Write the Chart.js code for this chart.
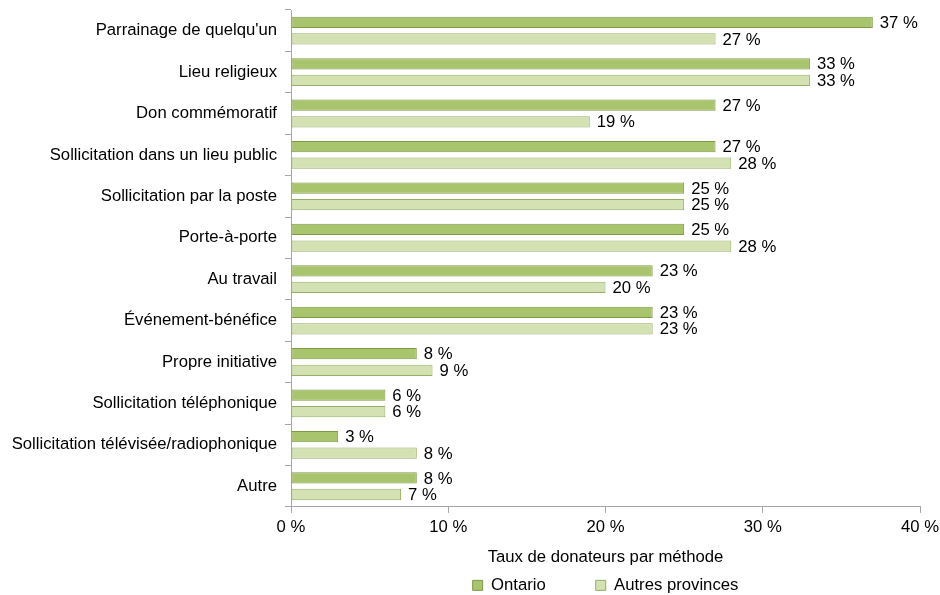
<!DOCTYPE html>
<html lang="fr">
<head>
<meta charset="utf-8">
<script src="https://cdn.jsdelivr.net/npm/chart.js@4/dist/chart.umd.min.js"></script>
<style>
  html, body { margin: 0; padding: 0; background: #fff; }
  #wrap { width: 940px; height: 595px; }
</style>
</head>
<body>
<div id="wrap"><canvas id="c" width="940" height="595"></canvas></div>
<script>
// Méthodes de sollicitation
const categories = [
  "Parrainage de quelqu'un",
  "Lieu religieux",
  "Don commémoratif",
  "Sollicitation dans un lieu public",
  "Sollicitation par la poste",
  "Porte-à-porte",
  "Au travail",
  "Événement-bénéfice",
  "Propre initiative",
  "Sollicitation téléphonique",
  "Sollicitation télévisée/radiophonique",
  "Autre"
];

// Taux de donateurs (%)
const ontario = [37, 33, 27, 27, 25, 25, 23, 23, 8, 6, 3, 8];
const autresProvinces = [27, 33, 19, 28, 25, 28, 20, 23, 9, 6, 8, 7];

const seriesNames = ["Ontario", "Autres provinces"];
const xTicks = [0, 10, 20, 30, 40];
const axisTitle = "Taux de donateurs par méthode";

const FONT = "'Liberation Sans', Arial, sans-serif";
const FS = 16.7;
const LEGEND_GAP = 50;     // espace horizontal entre les entrées de légende
const LEGEND_HEIGHT = 26;  // hauteur réservée à la légende

// Étiquettes de valeur à droite de chaque barre
const valueLabels = {
  id: 'valueLabels',
  afterDatasetsDraw(chart) {
    const ctx = chart.ctx;
    ctx.save();
    ctx.font = FS + 'px ' + FONT;
    ctx.fillStyle = '#000';
    ctx.textBaseline = 'middle';
    ctx.textAlign = 'left';
    chart.data.datasets.forEach((ds, di) => {
      const meta = chart.getDatasetMeta(di);
      meta.data.forEach((bar, i) => {
        ctx.fillText(ds.data[i] + ' %', bar.x + 7, bar.y + 1);
      });
    });
    ctx.restore();
  }
};

// La marge de la légende sert d'espacement horizontal : on limite sa hauteur
// puis on la recentre sous la zone de tracé.
const legendUnderPlot = {
  id: 'legendUnderPlot',
  beforeLayout(chart) {
    const lg = chart.legend;
    if (!lg || lg._compactFit) return;
    const fit = lg.fit.bind(lg);
    lg.fit = function () {
      fit();
      this.height = LEGEND_HEIGHT;
    };
    lg._compactFit = true;
  },
  afterLayout(chart) {
    const lg = chart.legend;
    if (!lg) return;
    const dx = (chart.chartArea.left + chart.chartArea.right) / 2 - (lg.left + lg.right) / 2;
    lg.left += dx;
    lg.right += dx;
    lg.top = lg.bottom - LEGEND_GAP - 18;
  }
};

new Chart(document.getElementById('c'), {
  type: 'bar',
  data: {
    labels: categories,
    datasets: [
      {
        label: seriesNames[0],
        data: ontario,
        backgroundColor: '#A8C46C',
        borderColor: '#7E9A48',
        borderWidth: 1,
        borderSkipped: false,
        barPercentage: 0.68,
        categoryPercentage: 0.8
      },
      {
        label: seriesNames[1],
        data: autresProvinces,
        backgroundColor: '#D3E1B3',
        borderColor: '#97AE66',
        borderWidth: 1,
        borderSkipped: false,
        barPercentage: 0.68,
        categoryPercentage: 0.8
      }
    ]
  },
  options: {
    indexAxis: 'y',
    responsive: false,
    animation: false,
    devicePixelRatio: 1,
    layout: { padding: { left: 10, right: 20, top: 10, bottom: 0 } },
    scales: {
      x: {
        min: 0,
        max: 40,
        afterBuildTicks(scale) {
          scale.ticks = xTicks.map(v => ({ value: v }));
        },
        afterFit(scale) {
          scale.paddingLeft = 0;
          scale.paddingRight = 0;
        },
        grid: {
          drawOnChartArea: false,
          drawTicks: true,
          tickLength: 6,
          color: '#A6A6A6'
        },
        border: { color: '#A6A6A6', width: 1 },
        ticks: {
          color: '#000',
          font: { family: FONT, size: FS },
          padding: 4,
          maxRotation: 0,
          callback: v => v + ' %'
        },
        title: {
          display: true,
          text: axisTitle,
          color: '#000',
          font: { family: FONT, size: FS },
          padding: { top: 6, bottom: 2 }
        }
      },
      y: {
        afterFit(scale) {
          scale.width = 281;
          scale.paddingTop = 0;
          scale.paddingBottom = 0;
        },
        grid: {
          offset: true,
          drawOnChartArea: false,
          drawTicks: true,
          tickLength: 6,
          color: '#A6A6A6'
        },
        border: { color: '#A6A6A6', width: 1 },
        ticks: {
          color: '#000',
          font: { family: FONT, size: FS },
          padding: 8
        }
      }
    },
    plugins: {
      legend: {
        position: 'bottom',
        labels: {
          color: '#000',
          font: { family: FONT, size: FS },
          boxWidth: 10,
          boxHeight: 10,
          padding: LEGEND_GAP,
          generateLabels(chart) {
            return chart.data.datasets.map((ds, i) => ({
              text: ds.label,
              fillStyle: ds.backgroundColor,
              strokeStyle: ds.borderColor,
              lineWidth: 1,
              hidden: false,
              datasetIndex: i,
              fontColor: '#000'
            }));
          }
        }
      },
      tooltip: { enabled: false }
    }
  },
  plugins: [valueLabels, legendUnderPlot]
});
</script>
</body>
</html>
